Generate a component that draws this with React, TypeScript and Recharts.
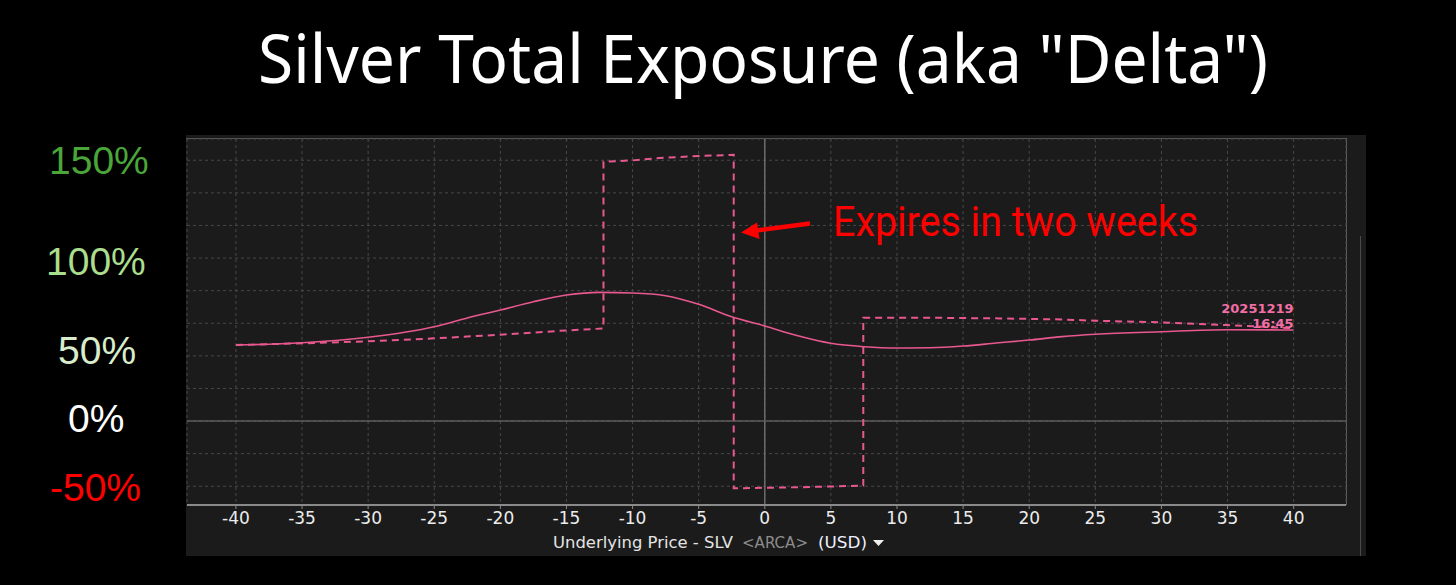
import React from 'react';
import { LineChart, Line, XAxis, YAxis, CartesianGrid, ReferenceLine } from 'recharts';

// current total exposure (solid)
const CURRENT_X = [-40, -35, -30, -25, -22.5, -20, -17.5, -15, -12.5, -10, -7.5, -5, -2.5, 0, 2.5, 5, 7.5, 10, 12.5, 15, 17.5, 20, 22.5, 25, 30, 35, 40];
const CURRENT_Y = [58.3, 60, 64.2, 72.3, 79, 85.1, 91.5, 96.6, 98.7, 98.2, 96.1, 89.5, 80, 72.9, 65.4, 59.6, 57, 56, 56.2, 57.5, 59.8, 62.1, 64.7, 66.5, 68.5, 70, 69.8];

// exposure of the contract expiring in two weeks (dashed)
const EXPIRING_X = [-40, -35, -30, -25, -20, -15, -12.2, -12.2, -10, -7.7, -5, -2.35, -2.35, 0, 2.5, 5, 7.45, 7.45, 12.75, 17.8, 22.5, 25, 30, 35, 40];
const EXPIRING_Y = [58.3, 59.6, 61.1, 63.4, 66.2, 69.5, 71, 198.9, 199.9, 201.9, 203.2, 204.2, -51.6, -51.2, -50.8, -50.2, -49.5, 79.2, 79.2, 78.7, 77.9, 76.9, 75.7, 73.6, 71.1];

const X_TICKS = [-40, -35, -30, -25, -20, -15, -10, -5, 0, 5, 10, 15, 20, 25, 30, 35, 40];
const Y_GRID = [-50, -25, 0, 25, 50, 75, 100, 125, 150, 175, 200];

const SIDE_LABELS = ['150%', '100%', '50%', '0%', '-50%'];
const SIDE_COLORS = ['#4ba63a', '#aadd8d', '#d9edcc', '#ffffff', '#ff0000'];
const SIDE_POS = [[49, 174], [46, 275], [58, 364], [68, 432], [50, 501]];

const END_DATE = '20251219';
const END_TIME = '16:45';

const current = CURRENT_X.map((x, i) => ({ x, y: CURRENT_Y[i] }));
const expiring = EXPIRING_X.map((x, i) => ({ x, y: EXPIRING_Y[i] }));

const PINK = '#e8588f';

function EndLabel(props: any) {
  const { x, y, index } = props;
  if (index !== expiring.length - 1) return null;
  return (
    <g fontFamily="DejaVu Sans" fontWeight={700} fontSize={13} fill="#f26fa5" textAnchor="end">
      <text x={x} y={y - 15}>{END_DATE}</text>
      <text x={x} y={y}>{END_TIME}</text>
    </g>
  );
}

export default function App() {
  return (
    <div style={{ position: 'absolute', left: 0, top: 0, width: 1456, height: 585, background: '#000', overflow: 'hidden' }}>
      {/* chart panel */}
      <div style={{ position: 'absolute', left: 186, top: 135, width: 1180, height: 421, background: '#1b1b1b' }} />
      <div style={{ position: 'absolute', left: 186, top: 138, width: 1161, height: 1, background: '#565656' }} />
      <div style={{ position: 'absolute', left: 1346, top: 138, width: 1, height: 367, background: '#5e5e5e' }} />
      <div style={{ position: 'absolute', left: 1360, top: 236, width: 1, height: 320, background: '#4a4a4a' }} />

      <div style={{ position: 'absolute', left: 186, top: 135 }}>
        <LineChart width={1180} height={421} margin={{ top: 4, right: 20, bottom: 21, left: 1 }}>
          <CartesianGrid stroke="#484848" strokeDasharray="3 3" />
          <XAxis
            dataKey="x"
            type="number"
            domain={[-43.7, 43.96]}
            ticks={X_TICKS}
            allowDataOverflow
            height={30}
            fontSize={17}
            axisLine={{ stroke: '#8a8a8a', strokeWidth: 2 }}
            tickLine={{ stroke: '#8a8a8a' }}
            tickSize={4}
            tickMargin={3}
            tick={{ fill: '#ececec', fontSize: 17, fontFamily: 'DejaVu Sans' }}
          />
          <YAxis hide type="number" domain={[-64.4, 216.3]} ticks={Y_GRID} allowDataOverflow />
          <ReferenceLine x={0} stroke="#6c6c6c" strokeWidth={1.5} />
          <ReferenceLine y={0} stroke="#5c5c5c" strokeWidth={1.5} />
          <Line
            data={expiring}
            dataKey="y"
            type="linear"
            stroke={PINK}
            strokeWidth={2}
            strokeDasharray="7 5"
            dot={false}
            label={<EndLabel />}
            isAnimationActive={false}
          />
          <Line
            data={current}
            dataKey="y"
            type="monotone"
            stroke={PINK}
            strokeWidth={1.6}
            dot={false}
            isAnimationActive={false}
          />
        </LineChart>
      </div>

      {/* overlay: title, annotation, hand-drawn scale */}
      <svg width={1456} height={585} style={{ position: 'absolute', left: 0, top: 0, pointerEvents: 'none' }}>
        <text x={258} y={83} fontFamily="Noto Sans" fontSize={68} fill="#fff" textLength={1010} lengthAdjust="spacingAndGlyphs">
          Silver Total Exposure (aka "Delta")
        </text>

        <text x={833} y={235.5} fontFamily="Roboto" fontSize={42} fill="#ff0000" textLength={365} lengthAdjust="spacingAndGlyphs">
          Expires in two weeks
        </text>
        <line x1={810} y1={223.5} x2={754} y2={230.8} stroke="#ff0000" strokeWidth={4.5} />
        <polygon points="741,232.5 757,222.5 759.5,239" fill="#ff0000" />

        {SIDE_LABELS.map((s, i) => (
          <text key={s} x={SIDE_POS[i][0]} y={SIDE_POS[i][1]} fontFamily="Liberation Sans" fontSize={39} fill={SIDE_COLORS[i]}>
            {s}
          </text>
        ))}

        <g fontFamily="DejaVu Sans" fontSize={15}>
          <text x={553} y={548} fill="#e4e4e4" textLength={180} lengthAdjust="spacingAndGlyphs">Underlying Price - SLV</text>
          <text x={742} y={548} fill="#8c8c8c" textLength={66} lengthAdjust="spacingAndGlyphs">{'<ARCA>'}</text>
          <text x={818} y={548} fill="#eef0ff" textLength={49} lengthAdjust="spacingAndGlyphs">(USD)</text>
          <polygon points="873,540 884,540 878.5,546" fill="#f0f0f0" />
        </g>
      </svg>
    </div>
  );
}
